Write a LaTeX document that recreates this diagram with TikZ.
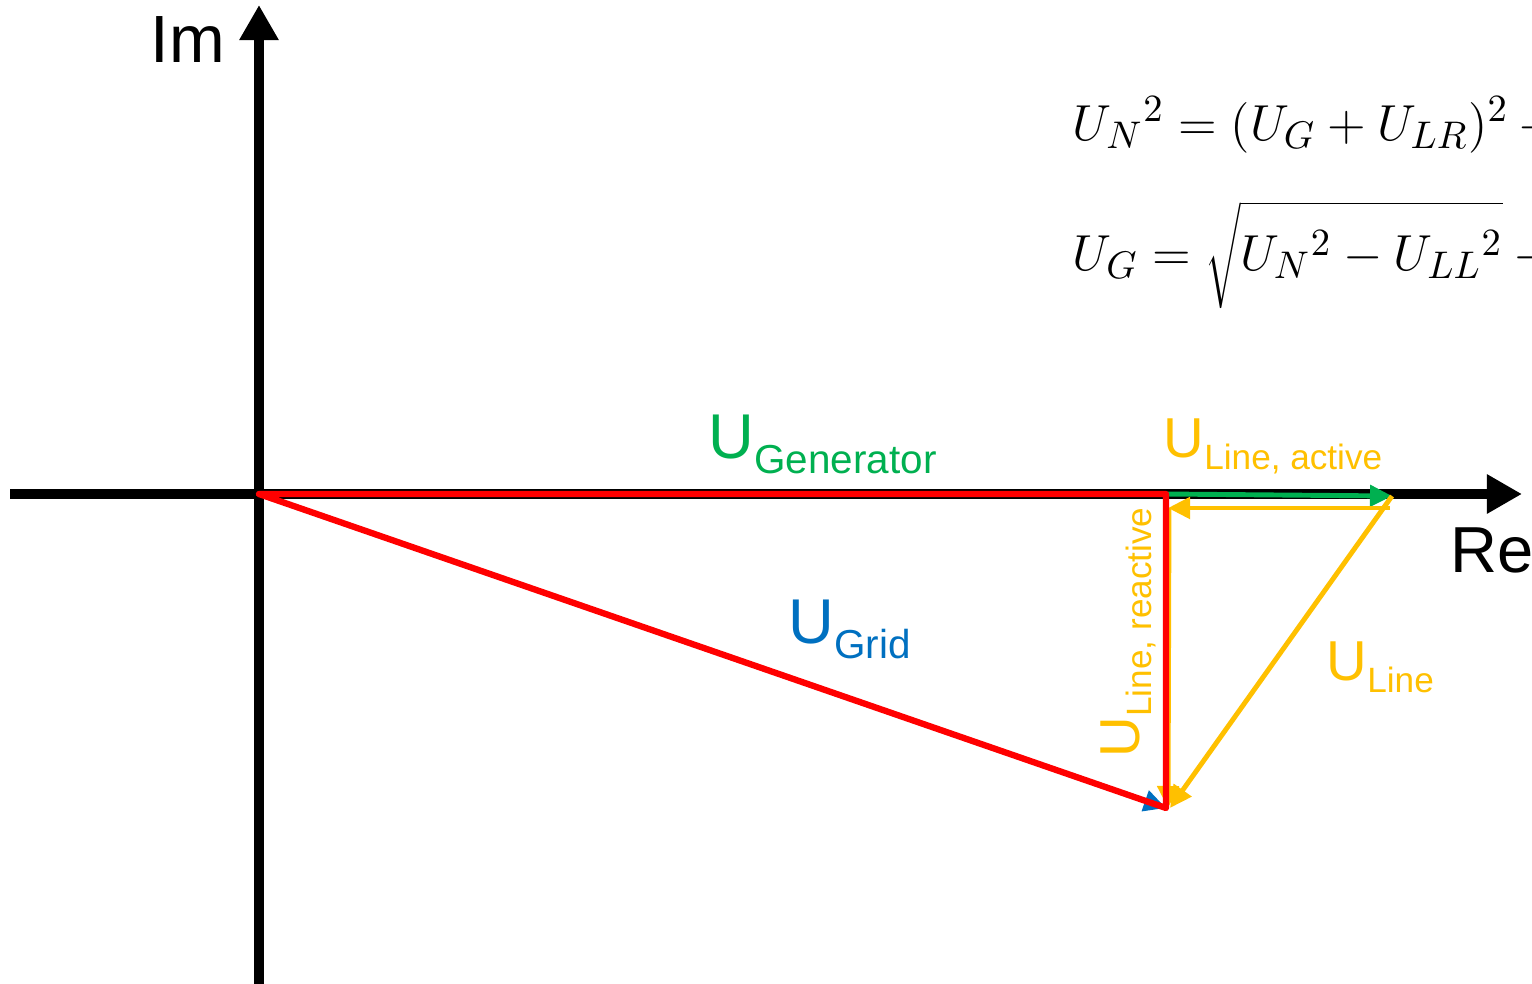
\documentclass[tikz,border=0pt]{standalone}
\usepackage[no-math]{fontspec}
\setmainfont{Liberation Sans}
\usetikzlibrary{arrows.meta, calc}

\definecolor{linered}{HTML}{FF0000}
\definecolor{gengreen}{HTML}{00B050}
\definecolor{gridblue}{HTML}{0070C0}
\definecolor{lineyellow}{HTML}{FFC000}

% U with a lowered subscript word
\newcommand{\ulab}[4]{{\fontsize{#1}{#1}\selectfont U}\raisebox{-#3}{\fontsize{#2}{#2}\selectfont #4}}

\begin{document}
\begin{tikzpicture}[x=0.01cm, y=-0.01cm,
    axis/.style={line width=2.6pt, -{Triangle[length=0.35cm, width=0.37cm]}},
    phasor/.style={line width=1.4pt, -{Triangle[length=0.22cm, width=0.21cm]}},
    lbl/.style={inner sep=0pt, anchor=base west},
    eqn/.style={inner sep=0pt, anchor=base west, font=\fontsize{15.2}{18}\selectfont}]
    \useasboundingbox (0,0) rectangle (1532,984);
    \clip (0,0) rectangle (1532,984);

    \coordinate (O) at (259,494);
    \coordinate (G) at (1166,494);
    \coordinate (N) at (1166,808);
    \coordinate (T) at (1392,496);

    % axes
    \draw[axis] (10,494) -- (1522,494) coordinate (reend);
    \draw[axis] (259,990) -- (259,5) coordinate (imend);
    \node [lbl, font=\fontsize{19}{20}\selectfont] (im) at (150,62) {Im};
    \node [lbl, font=\fontsize{18.5}{20}\selectfont] (re) at (1450,572) {Re};

    % phasors
    \draw[phasor, gridblue] (O) -- (N);
    \draw[phasor, gengreen] (G) -- (T);
    \draw[phasor, lineyellow] ($(T)+(-2,12)$) -- ($(G)+(2,14)$);
    \draw[phasor, lineyellow] ($(G)+(3,14)$) -- ($(N)+(2,0)$);
    \draw[phasor, lineyellow] (T) -- ($(N)+(4,0)$);
    \draw[linered, line width=1.8pt, line join=round] (O) -- (G) -- (N) -- cycle;

    % labels
    \node [lbl, text=gengreen] (ugen) at (708,458) {\ulab{18pt}{11.5pt}{4.5pt}{Generator}};
    \node [lbl, text=gridblue] (ugrid) at (788,643) {\ulab{18pt}{11.5pt}{4.5pt}{Grid}};
    \node [lbl, text=lineyellow] (uact) at (1163,457) {\ulab{16pt}{10pt}{3.5pt}{Line, active}};
    \node [lbl, text=lineyellow] (uline) at (1326,680) {\ulab{16pt}{10pt}{3.5pt}{Line}};
    \node [lbl, text=lineyellow, rotate=90] (ureact) at (1139,758) {\ulab{16pt}{10pt}{3.5pt}{Line, reactive}};

    % equations
    \node [eqn] (eqa) at (1072,140) {$U_N{}^2 = (U_G + U_{LR})^2 +{}$};
    \node [eqn] (eqb) at (1072,270) {$U_G = \sqrt{\vphantom{\bigg|}U_N{}^2 - U_{LL}{}^2} -{}$};
\end{tikzpicture}
\end{document}
